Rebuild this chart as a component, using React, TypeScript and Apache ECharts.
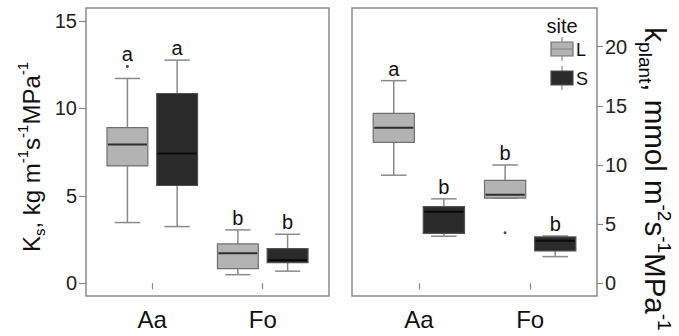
import React, { useEffect, useRef } from "react";
import * as echarts from "echarts";

const categories = ["Aa", "Fo"];
const siteNames = ["L", "S"];
// [low whisker, Q1, median, Q3, high whisker]
const ksL = [
  [3.47, 6.71, 7.93, 8.9, 11.71],
  [0.49, 0.84, 1.72, 2.25, 3.05],
];
const ksS = [
  [3.24, 5.59, 7.42, 10.85, 12.76],
  [0.69, 1.18, 1.32, 1.98, 2.8],
];
const ksOutL = [[1, 12.4]];
const ksOutS: number[][] = [];
const ksLettersL = ["a", "b"];
const ksLettersS = ["a", "b"];

const kpL = [
  [9.14, 11.92, 13.15, 14.36, 17.13],
  [7.21, 7.21, 7.49, 8.7, 10.0],
];
const kpS = [
  [3.98, 4.23, 6.05, 6.48, 7.14],
  [2.26, 2.74, 3.6, 3.92, 4.0],
];
const kpOutL = [[2, 4.28]];
const kpOutS: number[][] = [];
const kpLettersL = ["a", "b"];
const kpLettersS = ["b", "b"];

const ksTicks = [0, 5, 10, 15];
const kpTicks = [0, 5, 10, 15, 20];

const FONT = "'Liberation Sans', Arial, Helvetica, sans-serif";
const LIGHT = { fill: "#b3b3b3", stroke: "#707070", median: "#2e2e2e" };
const DARK = { fill: "#2a2a2a", stroke: "#505050", median: "#0a0a0a" };
const WHISK = "#8a8a8a";
const OFFSET = 0.225;
const BOXW = 0.37;

function boxSeries(
  grid: number,
  stats: number[][],
  outliers: number[][],
  letters: string[],
  offset: number,
  col: { fill: string; stroke: string; median: string }
) {
  const data = stats.map((s, i) => {
    const outs = outliers.filter((o) => o[0] === i + 1).map((o) => o[1]);
    const top = Math.max(s[4], ...outs);
    return [i + 1, s[0], s[1], s[2], s[3], s[4], top, i];
  });
  return {
    type: "custom",
    xAxisIndex: grid,
    yAxisIndex: grid,
    data,
    renderItem: (params: any, api: any) => {
      const x = api.value(0) + offset;
      const pLow = api.coord([x, api.value(1)]);
      const pQ1 = api.coord([x, api.value(2)]);
      const pMed = api.coord([x, api.value(3)]);
      const pQ3 = api.coord([x, api.value(4)]);
      const pHigh = api.coord([x, api.value(5)]);
      const pTop = api.coord([x, api.value(6)]);
      const w = api.size([BOXW, 0])[0];
      const cap = w * 0.62;
      const cx = pMed[0];
      const ls = { stroke: WHISK, lineWidth: 1.5 };
      const letter = letters[api.value(7)];
      return {
        type: "group",
        children: [
          { type: "line", shape: { x1: cx, y1: pQ3[1], x2: cx, y2: pHigh[1] }, style: ls },
          { type: "line", shape: { x1: cx, y1: pQ1[1], x2: cx, y2: pLow[1] }, style: ls },
          { type: "line", shape: { x1: cx - cap / 2, y1: pHigh[1], x2: cx + cap / 2, y2: pHigh[1] }, style: ls },
          { type: "line", shape: { x1: cx - cap / 2, y1: pLow[1], x2: cx + cap / 2, y2: pLow[1] }, style: ls },
          {
            type: "rect",
            shape: { x: cx - w / 2, y: pQ3[1], width: w, height: pQ1[1] - pQ3[1] },
            style: { fill: col.fill, stroke: col.stroke, lineWidth: 1.2 },
          },
          {
            type: "line",
            shape: { x1: cx - w / 2 + 1, y1: pMed[1], x2: cx + w / 2 - 1, y2: pMed[1] },
            style: { stroke: col.median, lineWidth: 2 },
          },
          {
            type: "text",
            x: cx,
            y: pTop[1] - 2,
            style: {
              text: letter,
              align: "center",
              verticalAlign: "bottom",
              textAlign: "center",
              textVerticalAlign: "bottom",
              fontSize: 20,
              fontFamily: FONT,
              fill: "#111",
            },
          },
        ],
      };
    },
  };
}

function outSeries(grid: number, outs: number[][], offset: number) {
  return {
    type: "scatter",
    xAxisIndex: grid,
    yAxisIndex: grid,
    symbolSize: 3,
    itemStyle: { color: "#222" },
    data: outs.map((o) => [o[0] + offset, o[1]]),
  };
}

const xAxisBase = (grid: number) => ({
  type: "value",
  gridIndex: grid,
  min: 0.4,
  max: 2.6,
  axisLine: { show: false },
  splitLine: { show: false },
  axisTick: { show: true, length: 6, customValues: [1, 2], lineStyle: { color: "#888", width: 1.2 } },
  axisLabel: {
    customValues: [1, 2],
    formatter: (v: number) => categories[Math.round(v) - 1] ?? "",
    fontSize: 24,
    color: "#111",
    fontFamily: FONT,
    margin: 11,
  },
});

export default function App() {
  const ref = useRef<HTMLDivElement>(null);
  useEffect(() => {
    if (!ref.current) return;
    const chart = echarts.init(ref.current, null, { renderer: "svg" });
    const rich = (size: number) => ({
      n: { fontSize: size, lineHeight: size + 8, fontFamily: FONT, fill: "#111", color: "#111", verticalAlign: "middle" },
      sup: { fontSize: Math.round(size * 0.64), lineHeight: Math.round(size * 0.64), fontFamily: FONT, color: "#111", verticalAlign: "top" },
      sub: { fontSize: Math.round(size * 0.64), lineHeight: Math.round(size * 0.64), fontFamily: FONT, color: "#111", verticalAlign: "bottom" },
    });
    const option: any = {
      animation: false,
      backgroundColor: "#fff",
      grid: [
        { left: 86, right: 350, top: 8, bottom: 40, show: true, borderColor: "#8a8a8a", borderWidth: 1.5, backgroundColor: "transparent" },
        { left: 352, right: 82, top: 8, bottom: 40, show: true, borderColor: "#8a8a8a", borderWidth: 1.5, backgroundColor: "transparent" },
      ],
      xAxis: [xAxisBase(0), xAxisBase(1)],
      yAxis: [
        {
          type: "value",
          gridIndex: 0,
          min: -0.73,
          max: 15.74,
          axisLine: { show: false },
          splitLine: { show: false },
          axisTick: { show: true, length: 7, customValues: ksTicks, lineStyle: { color: "#888", width: 1.2 } },
          axisLabel: { customValues: ksTicks, fontSize: 20, color: "#222", fontFamily: FONT, margin: 9 },
        },
        {
          type: "value",
          gridIndex: 1,
          position: "right",
          min: -1.07,
          max: 23.27,
          axisLine: { show: false },
          splitLine: { show: false },
          axisTick: { show: true, length: 6, customValues: kpTicks, lineStyle: { color: "#888", width: 1.2 } },
          axisLabel: { customValues: kpTicks, fontSize: 20, color: "#222", fontFamily: FONT, margin: 8 },
        },
      ],
      series: [
        boxSeries(0, ksL, ksOutL, ksLettersL, -OFFSET, LIGHT),
        boxSeries(0, ksS, ksOutS, ksLettersS, OFFSET, DARK),
        outSeries(0, ksOutL, -OFFSET),
        outSeries(0, ksOutS, OFFSET),
        boxSeries(1, kpL, kpOutL, kpLettersL, -OFFSET, LIGHT),
        boxSeries(1, kpS, kpOutS, kpLettersS, OFFSET, DARK),
        outSeries(1, kpOutL, -OFFSET),
        outSeries(1, kpOutS, OFFSET),
      ],
      graphic: [
        {
          type: "text",
          x: 31,
          y: 157,
          rotation: Math.PI / 2,
          style: {
            text: "{n|K}{sub|s}{n|, kg m}{sup|-1}{n|s}{sup|-1}{n|MPa}{sup|-1}",
            rich: rich(24),
            align: "center",
            verticalAlign: "middle",
            textAlign: "center",
            textVerticalAlign: "middle",
          },
        },
        {
          type: "text",
          x: 655,
          y: 179,
          rotation: -Math.PI / 2,
          style: {
            text: "{n|k}{sub|plant}{n|, mmol m}{sup|-2}{n|s}{sup|-1}{n|MPa}{sup|-1}",
            rich: rich(29.5),
            align: "center",
            verticalAlign: "middle",
            textAlign: "center",
            textVerticalAlign: "middle",
          },
        },
        // legend
        {
          type: "text",
          x: 562,
          y: 26,
          style: { text: "site", fontSize: 20, fontFamily: FONT, fill: "#111", align: "center", verticalAlign: "middle", textAlign: "center", textVerticalAlign: "middle" },
        },
        { type: "line", shape: { x1: 562, y1: 37, x2: 562, y2: 61 }, style: { stroke: WHISK, lineWidth: 1.2 } },
        { type: "rect", shape: { x: 551, y: 42, width: 22, height: 14 }, style: { fill: LIGHT.fill, stroke: LIGHT.stroke, lineWidth: 1.2 } },
        { type: "line", shape: { x1: 551, y1: 49, x2: 573, y2: 49 }, style: { stroke: "#8a8a8a", lineWidth: 1.2 } },
        {
          type: "text",
          x: 576,
          y: 50,
          style: { text: siteNames[0], fontSize: 18, fontFamily: FONT, fill: "#111", align: "left", verticalAlign: "middle", textAlign: "left", textVerticalAlign: "middle" },
        },
        { type: "line", shape: { x1: 562, y1: 66, x2: 562, y2: 90 }, style: { stroke: WHISK, lineWidth: 1.2 } },
        { type: "rect", shape: { x: 551, y: 71, width: 22, height: 14 }, style: { fill: DARK.fill, stroke: DARK.stroke, lineWidth: 1.2 } },
        {
          type: "text",
          x: 576,
          y: 79,
          style: { text: siteNames[1], fontSize: 18, fontFamily: FONT, fill: "#111", align: "left", verticalAlign: "middle", textAlign: "left", textVerticalAlign: "middle" },
        },
      ],
    };
    chart.setOption(option);
    return () => chart.dispose();
  }, []);
  return <div ref={ref} style={{ width: 679, height: 336, position: "absolute", left: 0, top: 0 }} />;
}
